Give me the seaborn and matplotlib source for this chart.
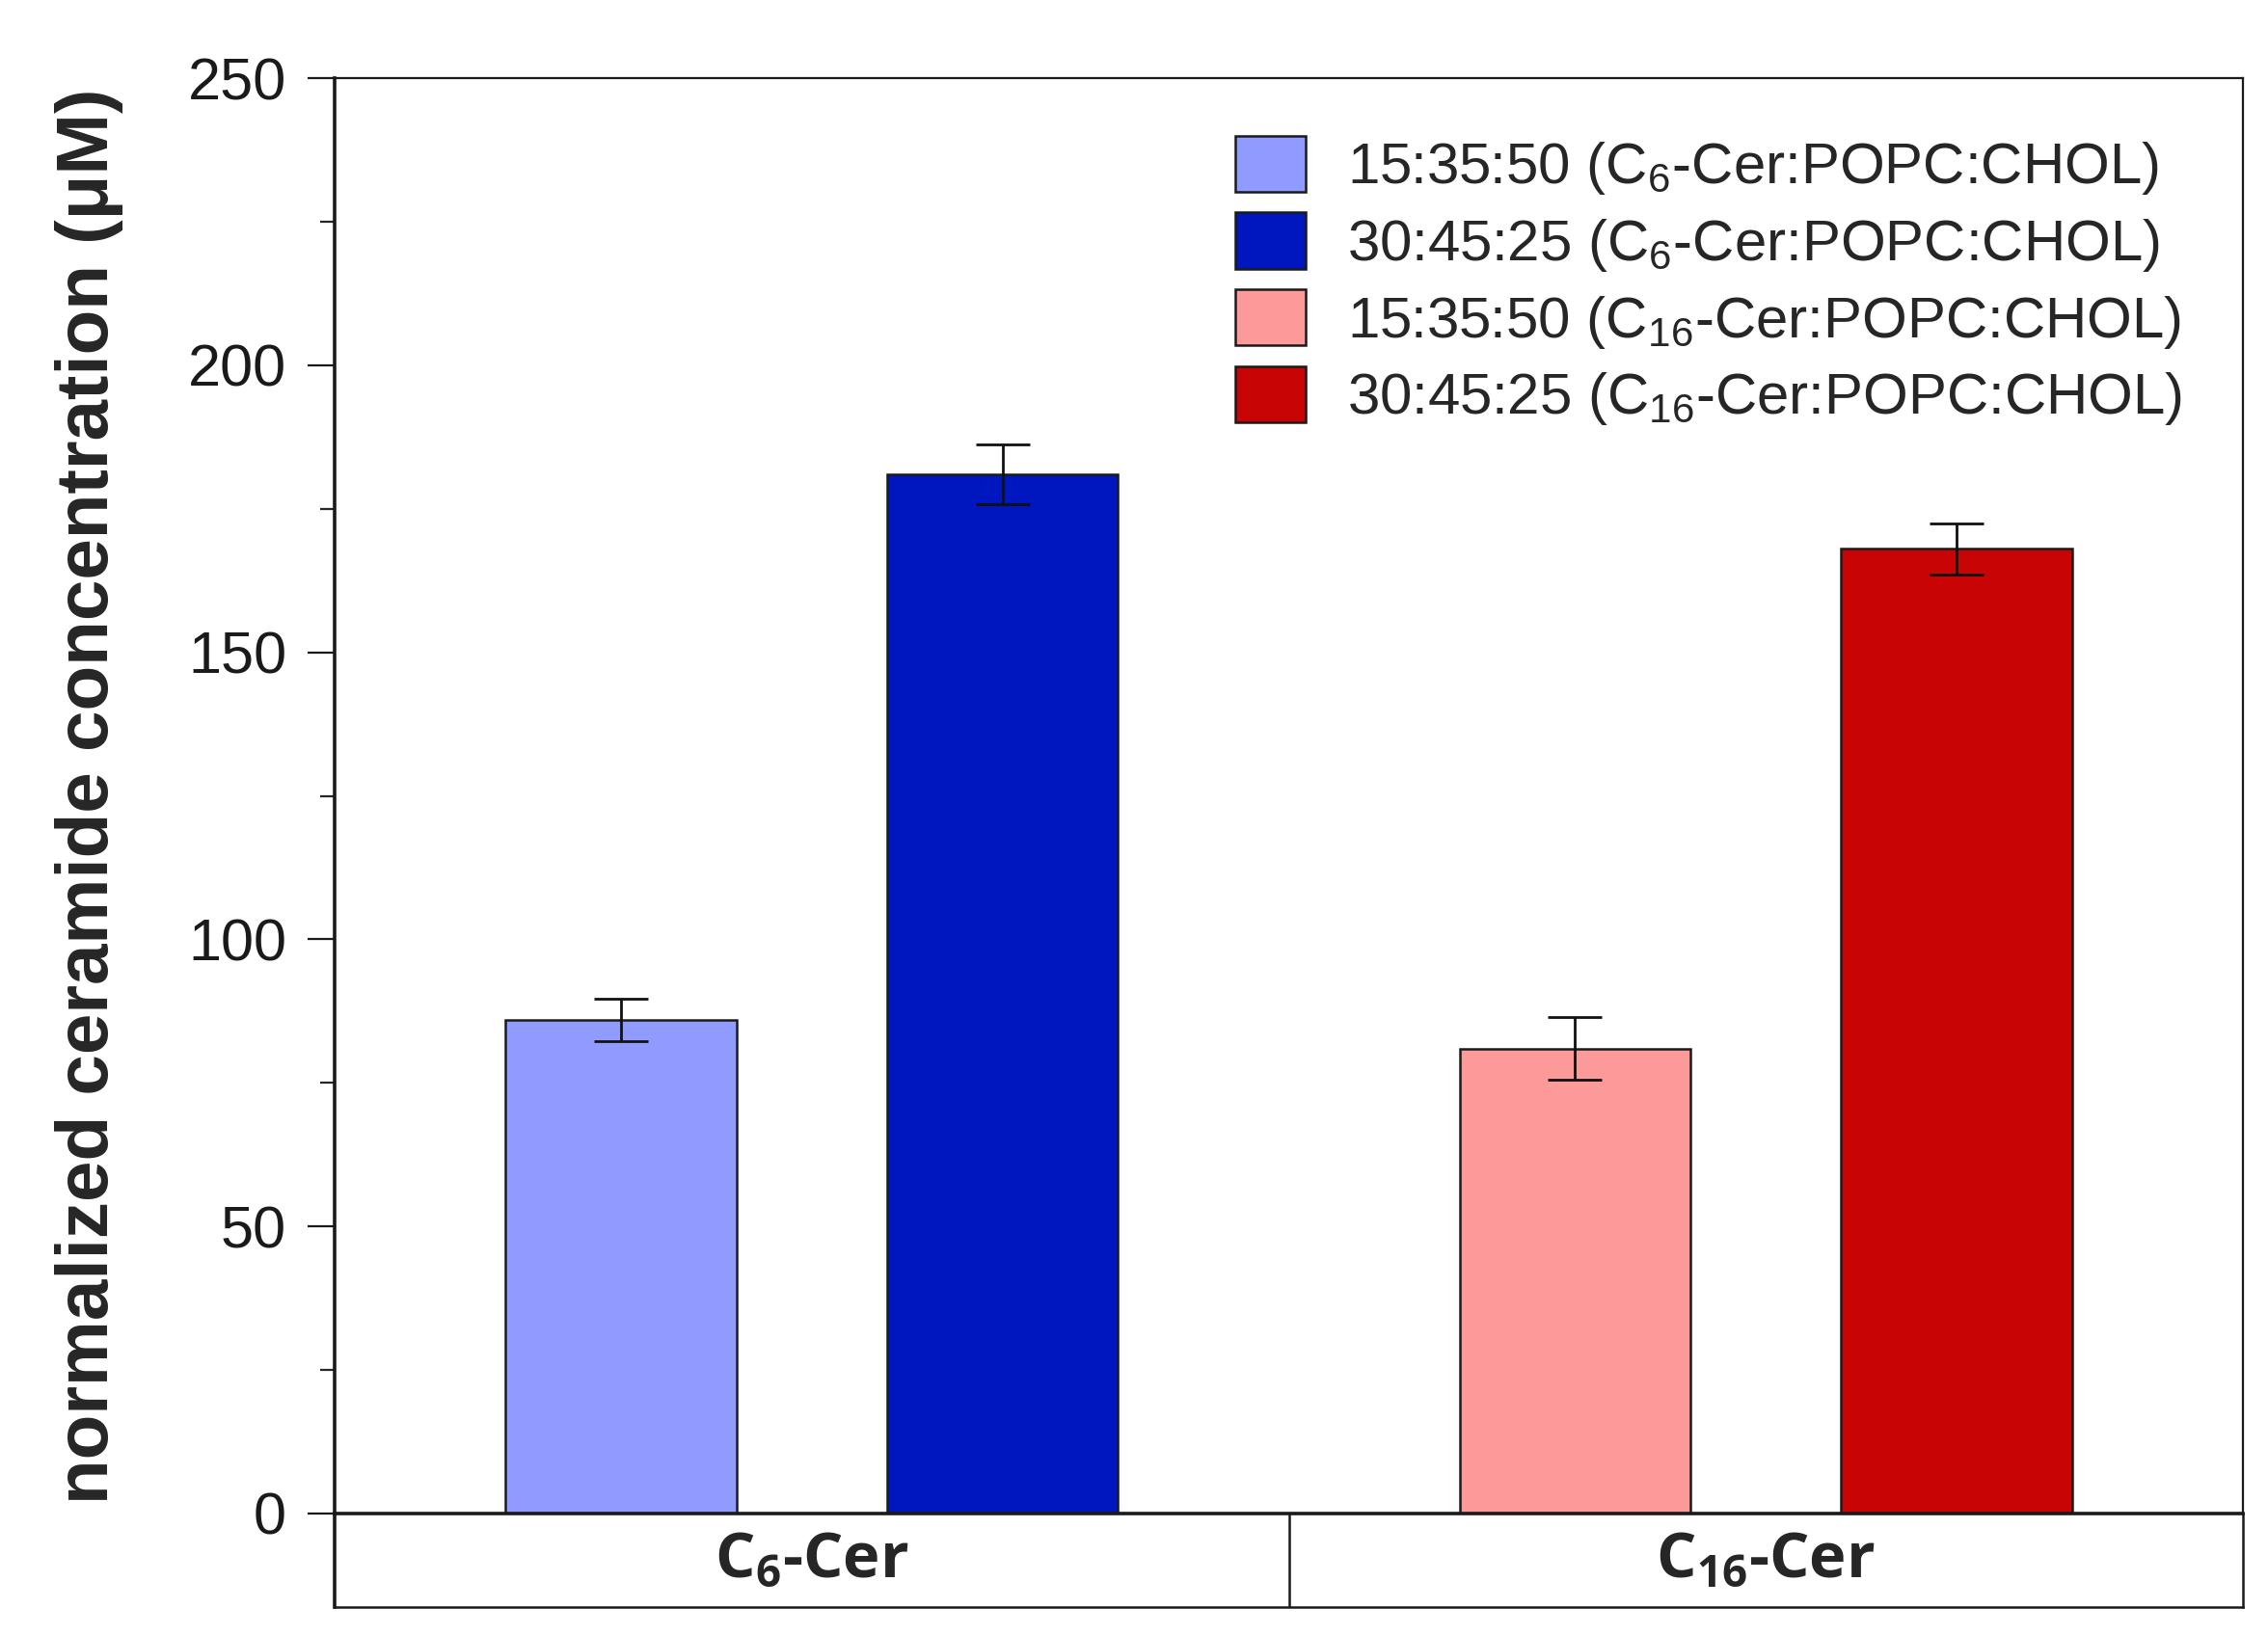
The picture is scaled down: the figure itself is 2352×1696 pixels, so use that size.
import matplotlib
matplotlib.use("Agg")
import matplotlib.pyplot as plt
from matplotlib.patches import Patch
import seaborn as sns
import pandas as pd

# ---- data ----
groups = ["C$_{6}$-Cer", "C$_{16}$-Cer"]
ratios = ["15:35:50", "30:45:25"]
means_c6 = [86, 181]
means_c16 = [81, 168]
errs_c6 = [3.7, 5.2]
errs_c16 = [5.5, 4.5]
legend_labels = [
    "15:35:50 (C$_{6}$-Cer:POPC:CHOL)",
    "30:45:25 (C$_{6}$-Cer:POPC:CHOL)",
    "15:35:50 (C$_{16}$-Cer:POPC:CHOL)",
    "30:45:25 (C$_{16}$-Cer:POPC:CHOL)",
]
colors = {  # (group index, ratio index)
    (0, 0): "#8f9bff",
    (0, 1): "#0017bf",
    (1, 0): "#fc9a9a",
    (1, 1): "#c80404",
}
yticks = [0, 50, 100, 150, 200, 250]

rows = []
for gi, (m, e) in enumerate([(means_c6, errs_c6), (means_c16, errs_c16)]):
    for ri, r in enumerate(ratios):
        rows.append({"group": groups[gi], "ratio": r, "value": m[ri], "err": e[ri]})
df = pd.DataFrame(rows)

sns.set_theme(style="ticks")
plt.rcParams["font.family"] = ["Liberation Sans", "DejaVu Sans"]
plt.rcParams["mathtext.default"] = "regular"

W, H, DPI = 2352, 1696, 200
fig = plt.figure(figsize=(W / DPI, H / DPI), dpi=DPI)
left, right = 347 / W, 2326 / W
ax_bottom, ax_top = 1 - 1570 / H, 1 - 81 / H
box_bottom = 1 - 1667 / H
ax = fig.add_axes([left, ax_bottom, right - left, ax_top - ax_bottom])

sns.barplot(data=df, x="group", y="value", hue="ratio", order=groups,
            hue_order=ratios, errorbar=None, width=0.8, gap=0.395,
            edgecolor="black", linewidth=0.9, legend=False, ax=ax)

bar_containers = list(ax.containers)
for ri, cont in enumerate(bar_containers):
    for gi, bar in enumerate(cont.patches):
        bar.set_facecolor(colors[(gi, ri)])
        bar.set_edgecolor("#1a1a1a")
        sub = df[(df["group"] == groups[gi]) & (df["ratio"] == ratios[ri])].iloc[0]
        xc = bar.get_x() + bar.get_width() / 2
        ax.errorbar(xc, sub["value"], yerr=sub["err"], fmt="none",
                    ecolor="#111111", elinewidth=1.0, capsize=10, capthick=1.0,
                    zorder=5)

ax.set_xlim(-0.5, 1.5)
ax.set_ylim(0, 250)
ax.set_yticks(yticks)
ax.set_yticks(range(25, 250, 50), minor=True)
ax.set_xticks([])
ax.set_xlabel("")
ax.set_ylabel("normalized ceramide concentration (μM)", fontsize=27.5,
              fontweight="bold", labelpad=24)
ax.tick_params(axis="y", which="major", length=10, width=0.8, direction="out",
               labelsize=22, pad=8, colors="#1a1a1a")
ax.tick_params(axis="y", which="minor", length=5.5, width=0.8, direction="out")
for s in ["top", "right"]:
    ax.spines[s].set_linewidth(0.8)
    ax.spines[s].set_visible(True)
for s in ["left", "bottom"]:
    ax.spines[s].set_linewidth(1.3)
for s in ax.spines.values():
    s.set_color("#1a1a1a")

handles = [Patch(facecolor=colors[(g, r)], edgecolor="#1a1a1a", linewidth=0.9)
           for g in range(2) for r in range(2)]
ax.legend(handles, legend_labels, loc="upper left", bbox_to_anchor=(0.472, 0.96),
          frameon=False, fontsize=21.6, handlelength=1.22, handleheight=1.12,
          handletextpad=0.72, labelspacing=0.27, borderpad=0, borderaxespad=0)

# category box below the axis
ax2 = fig.add_axes([left, box_bottom, right - left, ax_bottom - box_bottom])
ax2.set_xlim(-0.5, 1.5)
ax2.set_ylim(0, 1)
ax2.set_xticks([])
ax2.set_yticks([])
ax2.spines["top"].set_visible(False)
for s in ["left", "right", "bottom"]:
    ax2.spines[s].set_linewidth(0.9)
    ax2.spines[s].set_color("#1a1a1a")
ax2.spines["left"].set_linewidth(1.3)
ax2.axvline(0.5, color="#1a1a1a", linewidth=0.9)
ax2.patch.set_alpha(0)
for gi, g in enumerate(groups):
    ax2.text(gi, 0.5, g, ha="center", va="center", fontsize=23.5,
             fontweight="bold", family=["Open Sans", "DejaVu Sans"])

fig.savefig("out.png", dpi=DPI)
